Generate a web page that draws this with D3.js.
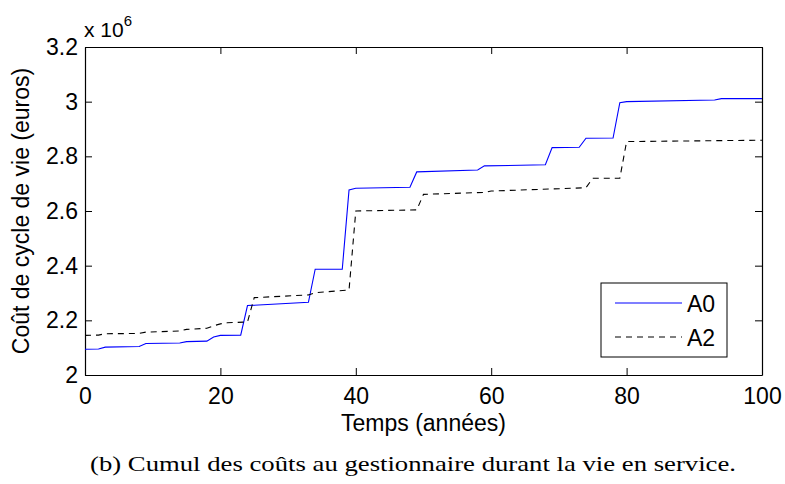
<!DOCTYPE html>
<html>
<head>
<meta charset="utf-8">
<script src="https://cdn.jsdelivr.net/npm/d3@7"></script>
<style>
  body { margin: 0; background: #fff; }
  svg { display: block; }
  text { font-family: "Liberation Sans", Arial, sans-serif; fill: #000; }
</style>
</head>
<body>
<svg id="chart" width="785" height="484"></svg>
<script>
// step vertices (year, cost in millions of euros)
var a0Years  = [0, 2, 3, 8, 9, 14, 15, 18, 19, 20, 23, 24, 33, 34, 38, 39, 40, 48, 49, 58, 59, 68, 69, 73, 74, 78, 79, 80, 93, 94, 100]
var a0Values = [2.094, 2.095, 2.102, 2.104, 2.115, 2.117, 2.122, 2.124, 2.139, 2.145, 2.146, 2.254, 2.266, 2.387, 2.387, 2.677, 2.683, 2.687, 2.743, 2.750, 2.765, 2.769, 2.832, 2.833, 2.866, 2.867, 2.996, 3.000, 3.006, 3.011, 3.011]

var a2Years  = [0, 2, 3, 8, 9, 14, 15, 18, 19, 20, 21, 24, 25, 33, 34, 39, 40, 49, 50, 59, 60, 74, 75, 79, 80, 100]
var a2Values = [2.145, 2.146, 2.151, 2.152, 2.157, 2.161, 2.167, 2.171, 2.180, 2.187, 2.191, 2.194, 2.283, 2.293, 2.301, 2.311, 2.600, 2.604, 2.661, 2.668, 2.673, 2.685, 2.720, 2.720, 2.854, 2.859]

var seriesNames = ["A0", "A2"]
var xTicks = [0, 20, 40, 60, 80, 100]
var yTicks = [2, 2.2, 2.4, 2.6, 2.8, 3, 3.2]

var svg = d3.select("#chart")
var margin = {left: 85, right: 23, top: 47, bottom: 109}
var W = 785, H = 484
var x = d3.scaleLinear().domain([0, 100]).range([margin.left, W - margin.right])
var y = d3.scaleLinear().domain([2, 3.2]).range([H - margin.bottom, margin.top])

var fs = 23
var tickLen = 7

// axes, MATLAB style box with inward ticks
svg.append("g")
  .attr("transform", "translate(0," + y(2) + ")")
  .call(d3.axisBottom(x).tickValues(xTicks).tickSizeInner(-tickLen).tickSizeOuter(0).tickPadding(13))
svg.append("g")
  .attr("transform", "translate(0," + y(3.2) + ")")
  .call(d3.axisTop(x).tickValues(xTicks).tickSizeInner(-tickLen).tickSizeOuter(0).tickFormat(""))
svg.append("g")
  .attr("transform", "translate(" + x(0) + ",0)")
  .call(d3.axisLeft(y).tickValues(yTicks).tickSizeInner(-tickLen).tickSizeOuter(0).tickPadding(7).tickFormat(d3.format("")))
svg.append("g")
  .attr("transform", "translate(" + x(100) + ",0)")
  .call(d3.axisRight(y).tickValues(yTicks).tickSizeInner(-tickLen).tickSizeOuter(0).tickFormat(""))

svg.selectAll(".domain").attr("stroke", "#000").attr("stroke-width", 1.2)
svg.selectAll(".tick line").attr("stroke", "#000")
svg.selectAll(".tick text")
  .style("font-family", '"Liberation Sans", Arial, sans-serif')
  .style("font-size", fs + "px")
  .attr("fill", "#000")

// lines
var line = d3.line().x(function(d) { return x(d[0]) }).y(function(d) { return y(d[1]) })
var a0 = d3.zip(a0Years, a0Values)
var a2 = d3.zip(a2Years, a2Values)

svg.append("path").datum(a0)
  .attr("d", line).attr("fill", "none")
  .attr("stroke", "#0000ff").attr("stroke-width", 1.1)
svg.append("path").datum(a2)
  .attr("d", line).attr("fill", "none")
  .attr("stroke", "#000").attr("stroke-width", 1.1)
  .attr("stroke-dasharray", "6,5")

// exponent label
var expo = svg.append("text").attr("x", 84).attr("y", 37).style("font-size", "21px")
expo.append("tspan").text("x 10")
expo.append("tspan").attr("dy", -11).style("font-size", "15px").text("6")

// axis titles
svg.append("text")
  .attr("x", (x(0) + x(100)) / 2).attr("y", 431)
  .attr("text-anchor", "middle").style("font-size", fs + "px")
  .text("Temps (années)")
svg.append("text")
  .attr("transform", "translate(29," + (y(2) + y(3.2)) / 2 + ") rotate(-90)")
  .attr("text-anchor", "middle").style("font-size", fs + "px")
  .text("Coût de cycle de vie (euros)")

// legend
var lg = svg.append("g")
lg.append("rect")
  .attr("x", 601).attr("y", 283).attr("width", 126).attr("height", 74)
  .attr("fill", "#fff").attr("stroke", "#000").attr("stroke-width", 1)
lg.append("line").attr("x1", 615).attr("x2", 682).attr("y1", 303).attr("y2", 303)
  .attr("stroke", "#0000ff").attr("stroke-width", 1.1)
lg.append("line").attr("x1", 615).attr("x2", 682).attr("y1", 337).attr("y2", 337)
  .attr("stroke", "#000").attr("stroke-width", 1.1).attr("stroke-dasharray", "6,5")
lg.selectAll("text.lbl").data(seriesNames).enter().append("text")
  .attr("class", "lbl")
  .attr("x", 687).attr("y", function(d, i) { return 312 + i * 34 })
  .style("font-size", fs + "px")
  .text(function(d) { return d })

// caption
svg.append("text")
  .attr("x", 413).attr("y", 471)
  .attr("text-anchor", "middle")
  .style("font-family", '"Liberation Serif", "DejaVu Serif", serif')
  .style("font-size", "22px")
  .attr("textLength", 646).attr("lengthAdjust", "spacingAndGlyphs")
  .text("(b) Cumul des coûts au gestionnaire durant la vie en service.")
</script>
</body>
</html>
